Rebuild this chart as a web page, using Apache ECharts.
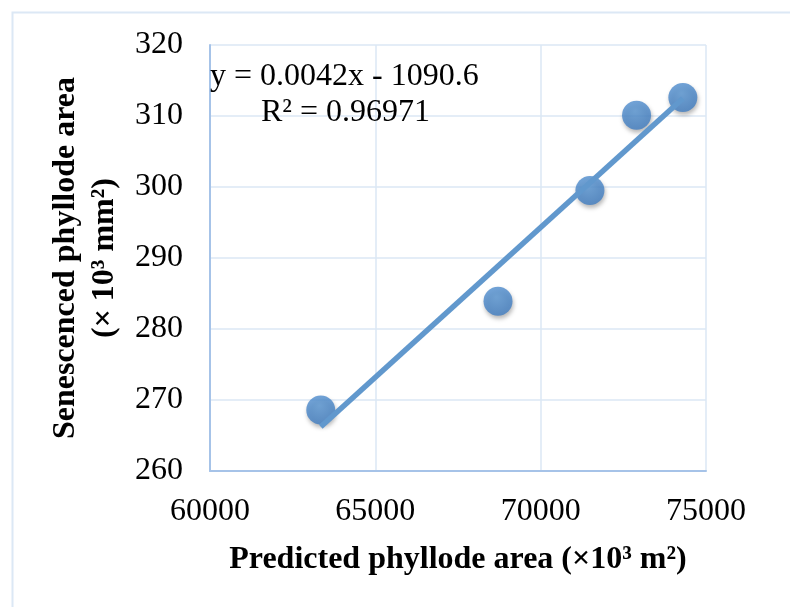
<!DOCTYPE html>
<html>
<head>
<meta charset="utf-8">
<script src="https://cdn.jsdelivr.net/npm/echarts@6/dist/echarts.min.js"></script>
<style>
html,body{margin:0;padding:0;background:#fff;}
#chart{width:790px;height:607px;}
</style>
</head>
<body>
<div id="chart"></div>
<script>
// Data
var predictedArea = [63350, 68710, 71490, 72900, 74300];
var senescencedArea = [268.6, 283.9, 299.5, 310.1, 312.6];
var xTicks = { min: 60000, max: 75000, interval: 5000 };
var yTicks = { min: 260, max: 320, interval: 10 };
var equationText = 'y = 0.0042x - 1090.6';
var r2Text = 'R² = 0.96971';
var xTitle = 'Predicted phyllode area (×10³ m²)';
var yTitle = 'Senescenced phyllode area\n(× 10³ mm²)';

// Least-squares trend line through the points
function fit(xs, ys) {
  var n = xs.length, mx = 0, my = 0;
  for (var i = 0; i < n; i++) { mx += xs[i]; my += ys[i]; }
  mx /= n; my /= n;
  var sxy = 0, sxx = 0;
  for (var j = 0; j < n; j++) { sxy += (xs[j]-mx)*(ys[j]-my); sxx += (xs[j]-mx)*(xs[j]-mx); }
  var b = sxy / sxx, a = my - b * mx;
  return { a: a, b: b };
}
var f = fit(predictedArea, senescencedArea);
var xMinD = Math.min.apply(null, predictedArea), xMaxD = Math.max.apply(null, predictedArea);
var trend = [[xMinD, f.a + f.b * xMinD], [xMaxD, f.a + f.b * xMaxD]];
var points = predictedArea.map(function (x, i) { return [x, senescencedArea[i]]; });

var FONT = '"Liberation Serif", "Times New Roman", serif';
var chart = echarts.init(document.getElementById('chart'), null, { renderer: 'canvas' });
chart.setOption({
  animation: false,
  backgroundColor: '#ffffff',
  grid: { left: 210, right: 84, top: 45, bottom: 136 },
  xAxis: {
    type: 'value', min: xTicks.min, max: xTicks.max, interval: xTicks.interval,
    name: xTitle, nameLocation: 'middle', nameGap: 73,
    nameTextStyle: { fontFamily: FONT, fontSize: 32, fontWeight: 'bold', color: '#000' },
    axisLine: { show: true, lineStyle: { color: '#a6c3e8', width: 2 } },
    axisTick: { show: false },
    axisLabel: { fontFamily: FONT, fontSize: 32, color: '#000', margin: 25,
      formatter: function (v) { return String(v); } },
    splitLine: { show: true, lineStyle: { color: '#dbe7f5', width: 1.5 } }
  },
  yAxis: {
    type: 'value', min: yTicks.min, max: yTicks.max, interval: yTicks.interval,
    name: yTitle, nameLocation: 'middle', nameGap: 79, nameRotate: 90,
    nameTextStyle: { fontFamily: FONT, fontSize: 32, fontWeight: 'bold', color: '#000', lineHeight: 39 },
    axisLine: { show: true, lineStyle: { color: '#a6c3e8', width: 2 } },
    axisTick: { show: false },
    axisLabel: { fontFamily: FONT, fontSize: 32, color: '#000', margin: 27 },
    splitLine: { show: true, lineStyle: { color: '#dbe7f5', width: 1.5 } }
  },
  graphic: [
    { type: 'rect', left: 10, top: 10, shape: { width: 800, height: 620 }, style: { fill: 'none', stroke: '#dce8f5', lineWidth: 2 }, z: -1, silent: true },
    { type: 'text', x: 210, y: 77, style: { text: equationText, font: '32px ' + FONT, fill: '#000', textVerticalAlign: 'middle' }, z: 10 },
    { type: 'text', x: 261, y: 113, style: { text: r2Text, font: '32px ' + FONT, fill: '#000', textVerticalAlign: 'middle' }, z: 10 }
  ],
  series: [
    {
      type: 'scatter', data: points, symbolSize: 29, z: 2,
      itemStyle: {
        color: new echarts.graphic.RadialGradient(0.45, 0.35, 0.7, [
          { offset: 0, color: '#5c9ad8' }, { offset: 1, color: '#3e7bc0' }
        ]),
        shadowBlur: 4, shadowOffsetX: 1, shadowOffsetY: 3, shadowColor: 'rgba(0,0,0,0.35)'
      }
    },
    {
      type: 'line', data: trend, showSymbol: false, symbol: 'none', z: 3,
      lineStyle: { color: '#6198cd', width: 5.5 }
    }
  ]
});
</script>
</body>
</html>
